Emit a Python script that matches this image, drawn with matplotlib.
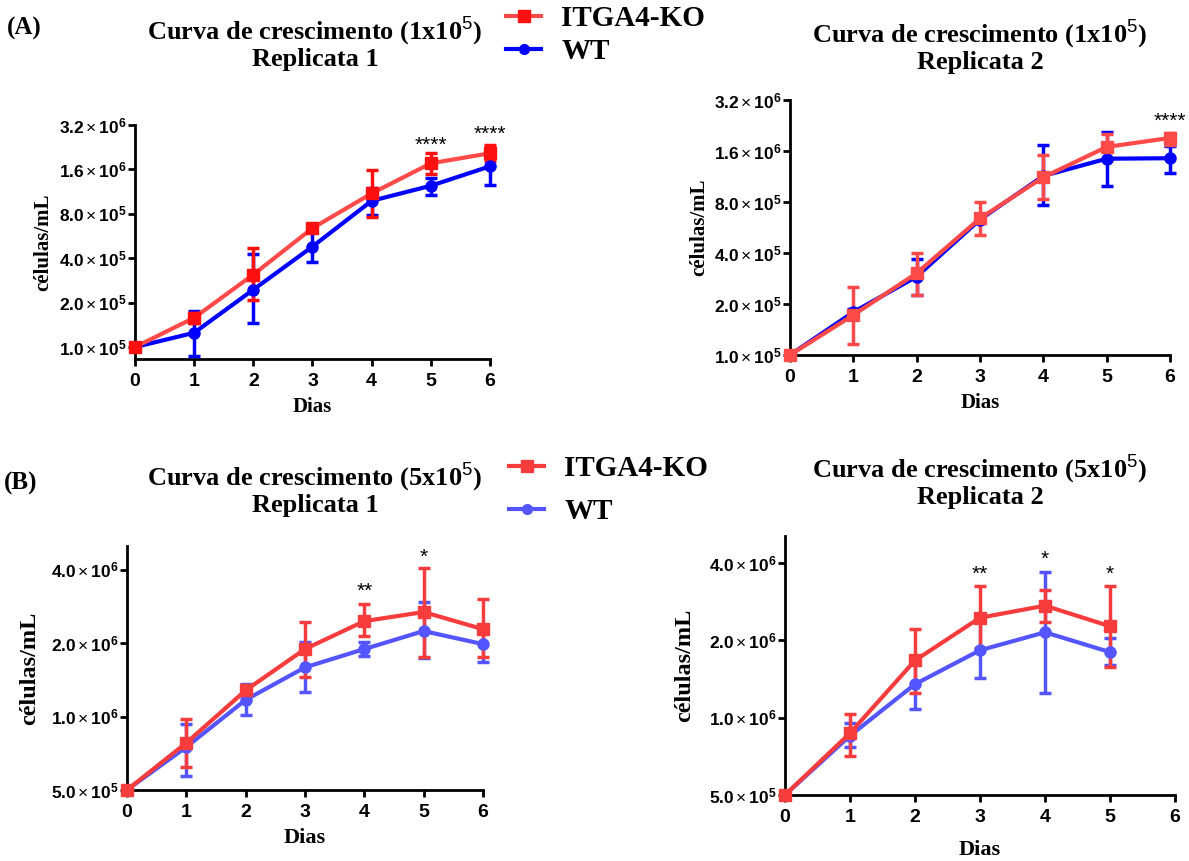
import matplotlib
matplotlib.use("Agg")
import matplotlib.pyplot as plt
from matplotlib.lines import Line2D

plt.rcParams['font.family'] = ['Liberation Serif', 'DejaVu Serif']
plt.rcParams['mathtext.fontset'] = 'custom'
plt.rcParams['mathtext.rm'] = 'Liberation Sans'
plt.rcParams['mathtext.bf'] = 'Liberation Sans:bold'

# ---- data (cells/mL) ----
days = [0, 1, 2, 3, 4, 5, 6]
days_b2 = [0, 1, 2, 3, 4, 5]

# (A) 1x10^5, replicate 1
a1_ko = [1.0e5, 1.58e5, 3.1e5, 6.4e5, 1.1e6, 1.76e6, 2.06e6]
a1_ko_lo = [1.0e5, 1.45e5, 2.1e5, 6.1e5, 7.6e5, 1.5e6, 1.82e6]
a1_ko_hi = [1.0e5, 1.7e5, 4.7e5, 6.7e5, 1.58e6, 2.06e6, 2.34e6]
a1_wt = [1.0e5, 1.25e5, 2.45e5, 4.8e5, 9.8e5, 1.24e6, 1.68e6]
a1_wt_lo = [1.0e5, 0.87e5, 1.46e5, 3.8e5, 7.9e5, 1.08e6, 1.26e6]
a1_wt_hi = [1.0e5, 1.76e5, 4.26e5, 6.3e5, 1.2e6, 1.41e6, 2.1e6]

# (A) 1x10^5, replicate 2
a2_ko = [1.0e5, 1.72e5, 3.04e5, 6.4e5, 1.12e6, 1.69e6, 1.91e6]
a2_ko_lo = [1.0e5, 1.16e5, 2.26e5, 5.1e5, 8.3e5, 1.41e6, 1.74e6]
a2_ko_hi = [1.0e5, 2.52e5, 4.0e5, 8.0e5, 1.51e6, 2.01e6, 2.04e6]
a2_wt = [1.0e5, 1.79e5, 2.9e5, 6.3e5, 1.14e6, 1.44e6, 1.45e6]
a2_wt_lo = [1.0e5, 1.7e5, 2.26e5, 6.0e5, 7.7e5, 9.9e5, 1.19e6]
a2_wt_hi = [1.0e5, 1.88e5, 3.7e5, 6.6e5, 1.74e6, 2.07e6, 1.71e6]

# (B) 5x10^5, replicate 1
b1_ko = [5.0e5, 7.8e5, 1.28e6, 1.89e6, 2.46e6, 2.68e6, 2.28e6]
b1_ko_lo = [5.0e5, 6.2e5, 1.22e6, 1.45e6, 2.14e6, 1.75e6, 1.75e6]
b1_ko_hi = [5.0e5, 9.8e5, 1.34e6, 2.44e6, 2.89e6, 4.08e6, 3.03e6]
b1_wt = [5.0e5, 7.5e5, 1.17e6, 1.59e6, 1.89e6, 2.24e6, 1.98e6]
b1_wt_lo = [5.0e5, 5.7e5, 1.01e6, 1.26e6, 1.77e6, 1.74e6, 1.67e6]
b1_wt_hi = [5.0e5, 9.3e5, 1.36e6, 2.02e6, 2.02e6, 2.95e6, 2.35e6]

# (B) 5x10^5, replicate 2
b2_ko = [5.0e5, 8.7e5, 1.67e6, 2.45e6, 2.73e6, 2.27e6]
b2_ko_lo = [5.0e5, 7.1e5, 1.25e6, 1.86e6, 2.36e6, 1.57e6]
b2_ko_hi = [5.0e5, 1.03e6, 2.22e6, 3.27e6, 3.14e6, 3.27e6]
b2_wt = [5.0e5, 8.5e5, 1.35e6, 1.83e6, 2.15e6, 1.8e6]
b2_wt_lo = [5.0e5, 7.7e5, 1.08e6, 1.43e6, 1.25e6, 1.6e6]
b2_wt_hi = [5.0e5, 9.5e5, 1.62e6, 2.37e6, 3.69e6, 2.05e6]

# significance marks: (day, y position, text)
a1_stars = [(5, 2.34e6, '****'), (6, 2.78e6, '****')]
a2_stars = [(6, 2.4e6, '****')]
b1_stars = [(4, 3.25e6, '**'), (5, 4.5e6, '*')]
b2_stars = [(3, 3.6e6, '**'), (4, 4.14e6, '*'), (5, 3.6e6, '*')]

a_yticks = [1e5, 2e5, 4e5, 8e5, 1.6e6, 3.2e6]
a_ylabels = [('1.0', 5), ('2.0', 5), ('4.0', 5), ('8.0', 5), ('1.6', 6), ('3.2', 6)]
b_yticks = [5e5, 1e6, 2e6, 4e6]
b_ylabels = [('5.0', 5), ('1.0', 6), ('2.0', 6), ('4.0', 6)]

legend_labels = ['ITGA4-KO', 'WT']

# colours
ko_line_top = '#FF4A4A'
ko_mark_top = '#FF1010'
wt_top = '#0000FF'
ko_bot = '#F63C3C'
wt_bot = '#5555FF'


def tick_text(mant, exp):
    return r'$\mathbf{' + mant + r'}\,$' + r'$\times$' + r'$\,\mathbf{10^{' + str(exp) + r'}}$'


def draw_series(ax, x, y, lo, hi, color, mcolor, marker, ms):
    yerr = [[v - l for v, l in zip(y, lo)], [h - v for v, h in zip(y, hi)]]
    ax.errorbar(x, y, yerr=yerr, color=color, lw=3, marker=marker, ms=ms,
                mfc=mcolor, mec=mcolor, ecolor=mcolor, elinewidth=2.5,
                capsize=4, capthick=2.5, clip_on=False, zorder=3)


def style_axes(ax, yticks, ylabels, ylim, ylabel_size, xlabel_size, xpad, ypad):
    ax.set_yscale('log')
    ax.set_xlim(0, 6)
    ax.set_ylim(*ylim)
    ax.set_xticks(range(7))
    ax.set_yticks(yticks)
    ax.set_yticklabels([tick_text(m, e) for m, e in ylabels])
    ax.yaxis.set_minor_locator(matplotlib.ticker.NullLocator())
    for s in ['top', 'right']:
        ax.spines[s].set_visible(False)
    for s in ['left', 'bottom']:
        ax.spines[s].set_linewidth(2)
    ax.tick_params(width=2, length=5, direction='out')
    ax.tick_params(axis='y', labelsize=12.5, pad=1)
    ax.tick_params(axis='x', labelsize=14, pad=5)
    for lab in ax.get_xticklabels():
        lab.set_fontfamily('Liberation Sans')
        lab.set_fontweight('bold')
    ax.set_ylabel('células/mL', fontsize=ylabel_size, fontweight='bold', labelpad=ypad)
    ax.set_xlabel('Dias', fontsize=xlabel_size, fontweight='bold', labelpad=xpad)


def add_stars(ax, stars):
    for d, yv, txt in stars:
        ax.text(d, yv, txt, ha='center', va='center', fontsize=15,
                family='Liberation Sans', clip_on=False)


fig = plt.figure(figsize=(11.89, 8.61), dpi=100)
ax1 = fig.add_axes([0.1135, 0.583, 0.2986, 0.2718])
ax2 = fig.add_axes([0.6644, 0.5877, 0.3196, 0.2962])
ax3 = fig.add_axes([0.1068, 0.0825, 0.2994, 0.2834])
ax4 = fig.add_axes([0.6602, 0.0767, 0.328, 0.3008])

# top row
draw_series(ax1, days, a1_wt, a1_wt_lo, a1_wt_hi, wt_top, wt_top, 'o', 8)
draw_series(ax1, days, a1_ko, a1_ko_lo, a1_ko_hi, ko_line_top, ko_mark_top, 's', 9)
draw_series(ax2, days, a2_wt, a2_wt_lo, a2_wt_hi, wt_top, wt_top, 'o', 8)
draw_series(ax2, days, a2_ko, a2_ko_lo, a2_ko_hi, ko_line_top, ko_line_top, 's', 9)
style_axes(ax1, a_yticks, a_ylabels, (0.83e5, 3.2e6), 15, 15, 5, 4)
style_axes(ax2, a_yticks, a_ylabels, (1.0e5, 3.2e6), 15, 15, 5, 3)
add_stars(ax1, a1_stars)
add_stars(ax2, a2_stars)

# bottom row
draw_series(ax3, days, b1_wt, b1_wt_lo, b1_wt_hi, wt_bot, wt_bot, 'o', 8)
draw_series(ax3, days, b1_ko, b1_ko_lo, b1_ko_hi, ko_bot, ko_bot, 's', 9)
draw_series(ax4, days_b2, b2_wt, b2_wt_lo, b2_wt_hi, wt_bot, wt_bot, 'o', 8)
draw_series(ax4, days_b2, b2_ko, b2_ko_lo, b2_ko_hi, ko_bot, ko_bot, 's', 9)
style_axes(ax3, b_yticks, b_ylabels, (5.0e5, 5.0e6), 17.5, 16, 5, 8)
style_axes(ax4, b_yticks, b_ylabels, (5.0e5, 5.1e6), 17.5, 16, 10, 10)
add_stars(ax3, b1_stars)
add_stars(ax4, b2_stars)

# titles
title_kw = dict(ha='center', va='center', fontsize=19, fontweight='bold', linespacing=1.05)
fig.text(315 / 1189, 1 - 43 / 861, 'Curva de crescimento (1x10$^5$)\nReplicata 1', **title_kw)
fig.text(980 / 1189, 1 - 46 / 861, 'Curva de crescimento (1x10$^5$)\nReplicata 2', **title_kw)
fig.text(315 / 1189, 1 - 489 / 861, 'Curva de crescimento (5x10$^5$)\nReplicata 1', **title_kw)
fig.text(980 / 1189, 1 - 481 / 861, 'Curva de crescimento (5x10$^5$)\nReplicata 2', **title_kw)

fig.text(7 / 1189, 1 - 28 / 861, '(A)', fontsize=18, fontweight='bold', va='center')
fig.text(4 / 1189, 1 - 483 / 861, '(B)', fontsize=18, fontweight='bold', va='center')

# legends
top_handles = [Line2D([], [], color=ko_line_top, lw=3, marker='s', ms=8, mfc=ko_mark_top, mec=ko_mark_top),
               Line2D([], [], color=wt_top, lw=3, marker='o', ms=7)]
bot_handles = [Line2D([], [], color=ko_bot, lw=3, marker='s', ms=8),
               Line2D([], [], color=wt_bot, lw=3, marker='o', ms=7)]
leg_kw = dict(frameon=False, handlelength=1.2, handletextpad=0.7, loc='upper left',
              borderpad=0, borderaxespad=0,
              prop={'family': 'Liberation Serif', 'weight': 'bold', 'size': 21})
fig.legend(top_handles, legend_labels, bbox_to_anchor=(506 / 1189, 1 - 5 / 861),
           labelspacing=0.2, **leg_kw)
fig.legend(bot_handles, legend_labels, bbox_to_anchor=(509 / 1189, 1 - 455 / 861),
           labelspacing=0.55, **leg_kw)

fig.savefig('out.png', dpi=100)
